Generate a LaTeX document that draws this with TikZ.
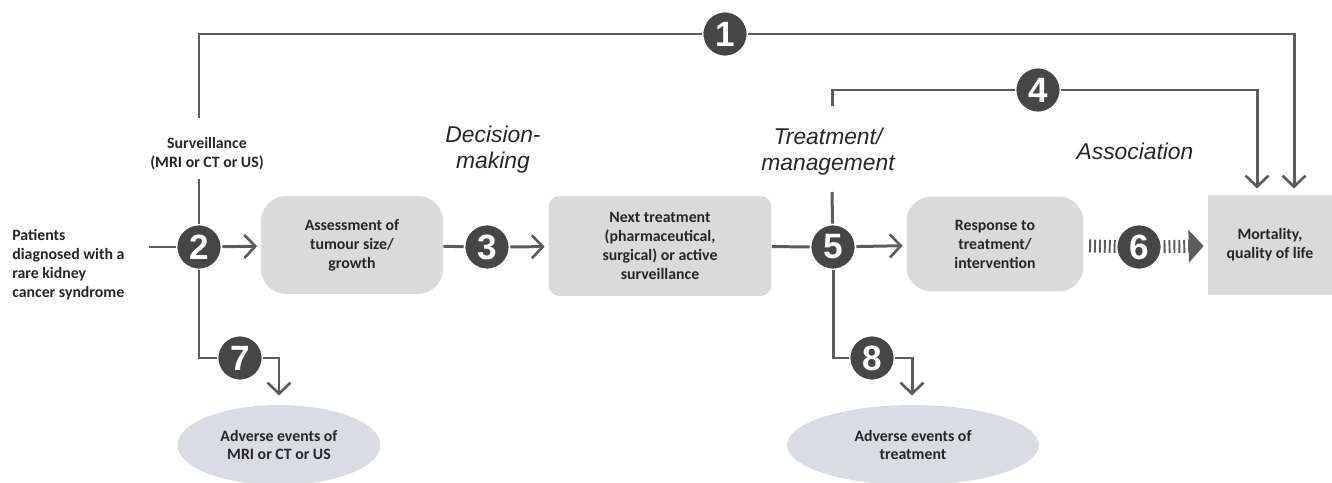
\documentclass[tikz,border=0pt]{standalone}
\usepackage{fontspec}
\setmainfont{Carlito}
\newfontfamily\labelfont{Liberation Sans}
\usetikzlibrary{arrows.meta,shapes.geometric}

\definecolor{linegray}{HTML}{5C5C5C}
\definecolor{circgray}{HTML}{464646}
\definecolor{boxgray}{HTML}{DADADA}
\definecolor{ellgray}{HTML}{D9DCE0}

\tikzset{
  num/.style={draw=white,circle,line width=1pt,fill=circgray,text=white,minimum size=0.9cm,inner sep=0pt,font=\labelfont\bfseries\fontsize{20}{20}\selectfont},
  conn/.style={linegray,line width=1.7pt},
  barb/.style={-{Straight Barb[length=0.22cm,width=0.46cm,line width=1.5pt]},shorten >=2pt},
  stripe/.style={linegray,line width=0.26cm,dash pattern=on 1.1pt off 1.7pt},
  txt/.style={text=black!85,align=center,font=\bfseries\fontsize{9}{10.8}\selectfont},
  box/.style={txt,fill=boxgray},
  phase/.style={align=center,text=black!85,font=\labelfont\itshape\fontsize{13}{14.8}\selectfont},
}

\begin{document}
\begin{tikzpicture}[x=0.02cm,y=-0.02cm]
  \useasboundingbox (0,0) rectangle (1332,483);

  \node[txt,anchor=west,align=left,inner sep=0pt] (P) at (12,265) {Patients\\diagnosed with a\\rare kidney\\cancer syndrome};
  \node[txt] (S) at (207,154) {Surveillance\\(MRI or CT or US)};
  \node[phase] (D) at (493,150) {Decision-\\making};
  \node[phase] (T) at (828,152) {Treatment/\\management};
  \node[phase] (A) at (1135,151) {Association};

  \node[box,rounded corners=0.5cm,minimum width=3.64cm,minimum height=1.96cm] (AT) at (352,245) {Assessment of\\tumour size/\\growth};
  \node[box,rounded corners=0.22cm,minimum width=4.46cm,minimum height=2cm] (NT) at (660,246) {Next treatment\\(pharmaceutical,\\surgical) or active\\surveillance};
  \node[box,rounded corners=0.5cm,minimum width=3.54cm,minimum height=1.9cm] (RT) at (995,244) {Response to\\treatment/\\intervention};
  \node[box,minimum width=2.5cm,minimum height=2cm] (M) at (1270,245) {Mortality,\\quality of life};

  \node[txt,ellipse,fill=ellgray,minimum width=4.06cm,minimum height=1.6cm] (AE1) at (279,445) {Adverse events of\\MRI or CT or US};
  \node[txt,ellipse,fill=ellgray,minimum width=5.04cm,minimum height=1.6cm] (AE2) at (913,445) {Adverse events of\\treatment};

  \coordinate (p0) at (149,247);
  \coordinate (s1) at (199,118);
  \coordinate (s2) at (199,179);
  \coordinate (t1) at (832,106);
  \coordinate (t2) at (832,192);
  \coordinate (m1) at (1294,192);
  \coordinate (m4) at (1257,192);
  \coordinate (e1) at (279,399);
  \coordinate (e2) at (912,399);

  \node[num] (c1) at (725,34) {1};
  \node[num] (c4) at (1038,90) {4};
  \node[num] (c2) at (199,247) {2};
  \node[num] (c3) at (487,247) {3};
  \node[num] (c5) at (833,247) {5};
  \node[num] (c7) at (240,358) {7};
  \node[num] (c8) at (872,358) {8};

  \draw[conn] (s1) |- (c1);
  \draw[conn,barb] (c1) -| (m1);
  \draw[conn] (t1) |- (c4);
  \draw[conn,barb] (c4) -| (m4);

  \draw[conn] (p0) -- (c2);
  \draw[conn] (c2) -- (s2);
  \draw[conn,barb] (c2) -- (AT);
  \draw[conn] (AT) -- (c3);
  \draw[conn,barb] (c3) -- (NT);
  \draw[conn] (NT) -- (c5);
  \draw[conn] (c5) -- (t2);
  \draw[conn,barb] (c5) -- (RT);

  \draw[conn] (c2) |- (c7);
  \draw[conn,barb] (c7) -| (e1);
  \draw[conn] (c5) |- (c8);
  \draw[conn,barb] (c8) -| (e2);

  \draw[stripe,shorten <=3pt] (RT) -- (1139,247);
  \draw[stripe,-{Triangle[length=0.3cm,width=0.64cm]},shorten >=2pt] (1139,247) -- (M);
  \node[num] (c6) at (1139,247) {6};

\end{tikzpicture}
\end{document}
